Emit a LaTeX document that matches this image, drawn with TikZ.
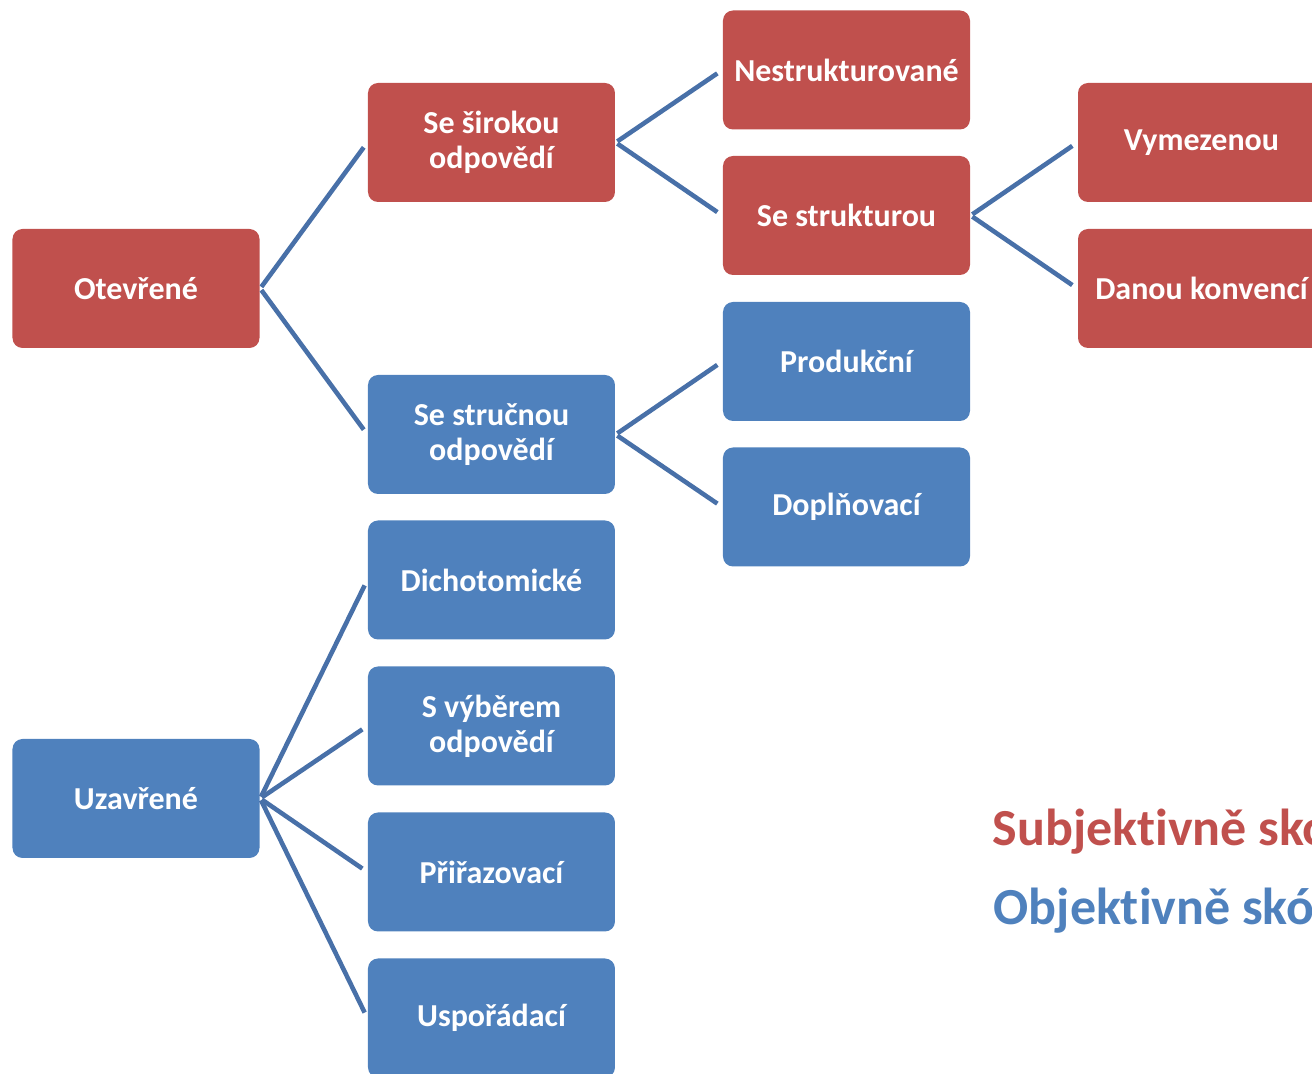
\documentclass[tikz,border=0pt]{standalone}
\usepackage{fontspec}
\setmainfont{Carlito}[Ligatures=NoCommon]
\definecolor{BoxRed}{HTML}{C0504D}
\definecolor{BoxBlue}{HTML}{4F81BD}
\definecolor{LinkBlue}{HTML}{4870A8}
\tikzset{
  box/.style={rectangle,rounded corners=0.1cm,minimum width=2.47cm,minimum height=1.19cm,
    inner sep=0pt,text=white,align=center,font=\bfseries\fontsize{9.1}{10}\selectfont},
  link/.style={draw=LinkBlue,line width=1.3pt,shorten <=0.02cm,shorten >=0.06cm},
  legend/.style={anchor=base west,inner sep=0pt,font=\bfseries\fontsize{14.8}{16}\selectfont}
}
\newcommand{\drawbox}[5]{% Parameters: name, color, x, y, label
  \node[box,fill=#2] (#1) at (#3,-#4) {#5};
}
\newcommand{\drawlink}[2]{ % Parameters: parent, child
  \draw[link] (#1.east) -- (#2.west);
}

\begin{document}
\begin{tikzpicture}
    \useasboundingbox (0,0) rectangle (13.12,-10.74);
    \clip (0,0) rectangle (13.12,-10.74);
    % first level
    \drawbox{otevrene}{BoxRed}{1.36}{2.885}{Otevřené}
    \drawbox{uzavrene}{BoxBlue}{1.36}{7.985}{Uzavřené}
    % second level
    \drawbox{sirokou}{BoxRed}{4.915}{1.425}{Se širokou\\odpovědí}
    \drawbox{strucnou}{BoxBlue}{4.915}{4.345}{Se stručnou\\odpovědí}
    \drawbox{dicho}{BoxBlue}{4.915}{5.80}{Dichotomické}
    \drawbox{vyber}{BoxBlue}{4.915}{7.26}{S výběrem\\odpovědí}
    \drawbox{prirazovaci}{BoxBlue}{4.915}{8.72}{Přiřazovací}
    \drawbox{usporadaci}{BoxBlue}{4.915}{10.18}{Uspořádací}
    % third level
    \drawbox{nestrukt}{BoxRed}{8.465}{0.70}{Nestrukturované}
    \drawbox{strukturou}{BoxRed}{8.465}{2.155}{Se strukturou}
    \drawbox{produkcni}{BoxBlue}{8.465}{3.615}{Produkční}
    \drawbox{doplnovaci}{BoxBlue}{8.465}{5.07}{Doplňovací}
    % fourth level
    \drawbox{vymezenou}{BoxRed}{12.015}{1.425}{Vymezenou}
    \drawbox{konvenci}{BoxRed}{12.015}{2.885}{Danou konvencí}
    % connectors
    \drawlink{otevrene}{sirokou}
    \drawlink{otevrene}{strucnou}
    \drawlink{sirokou}{nestrukt}
    \drawlink{sirokou}{strukturou}
    \drawlink{strucnou}{produkcni}
    \drawlink{strucnou}{doplnovaci}
    \drawlink{strukturou}{vymezenou}
    \drawlink{strukturou}{konvenci}
    \drawlink{uzavrene}{dicho}
    \drawlink{uzavrene}{vyber}
    \drawlink{uzavrene}{prirazovaci}
    \drawlink{uzavrene}{usporadaci}
    % legend
    \node[legend,text=BoxRed] (subj) at (9.92,-8.46) {Subjektivně skórovatelné};
    \node[legend,text=BoxBlue] (obj) at (9.93,-9.25) {Objektivně skórovatelné};
  \end{tikzpicture}
\end{document}
